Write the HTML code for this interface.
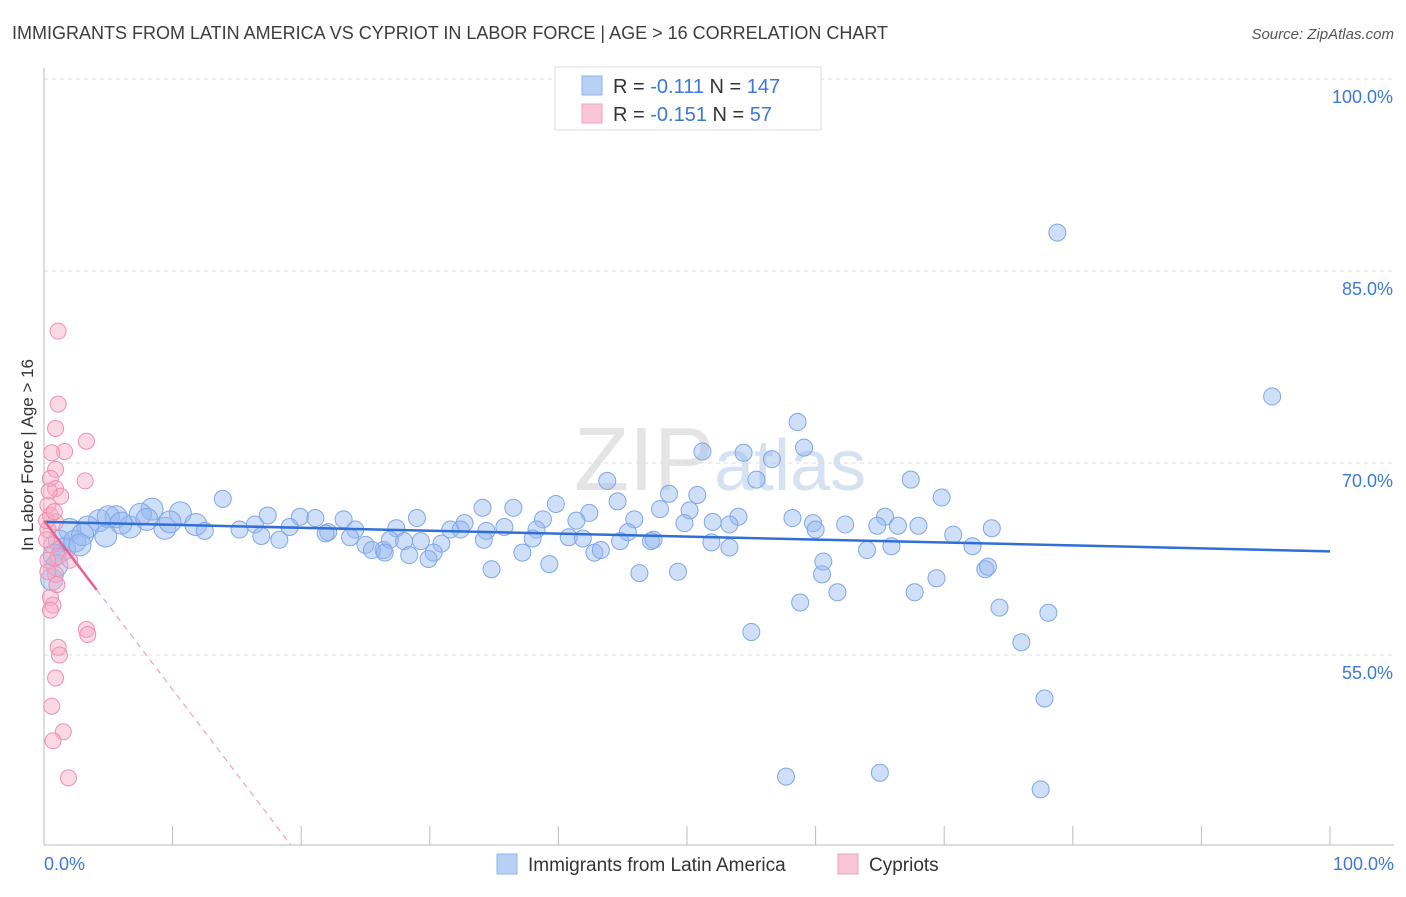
<!DOCTYPE html>
<html><head><meta charset="utf-8"><style>
body{margin:0;background:#fff;font-family:"Liberation Sans",sans-serif}
svg text{font-family:"Liberation Sans",sans-serif}
</style></head><body>
<svg width="1406" height="892" xmlns="http://www.w3.org/2000/svg">
<text x="12" y="39" font-size="18" fill="#3c3c3c">IMMIGRANTS FROM LATIN AMERICA VS CYPRIOT IN LABOR FORCE | AGE &gt; 16 CORRELATION CHART</text>
<text x="1394" y="39" font-size="15" fill="#555" text-anchor="end" font-style="italic">Source: ZipAtlas.com</text>
<text x="720" y="490" font-size="90" fill="#e4e4e4" text-anchor="middle" font-family="Liberation Serif">ZIP<tspan fill="#d6e2f2" font-family="Liberation Sans" font-size="72">atlas</tspan></text>
<g id="grid"></g>
<g id="axes"></g>
<text transform="translate(33,455) rotate(-90)" font-size="17" fill="#333" text-anchor="middle">In Labor Force | Age &gt; 16</text>
<g id="pts"></g>
<g id="lines"></g>
<g>
<rect x="555" y="67" width="266" height="63" fill="#fff" stroke="#ddd"/>
<rect x="582" y="76" width="20" height="19" fill="#b7d0f3" stroke="#8fb4ea"/>
<rect x="582" y="104" width="20" height="19" fill="#f9c6d6" stroke="#f2a3bd"/>
<text x="613" y="93" font-size="20" fill="#333">R = <tspan fill="#3d78d8">-0.111</tspan>   N = <tspan fill="#3d78d8">147</tspan></text>
<text x="613" y="121" font-size="20" fill="#333">R = <tspan fill="#3d78d8">-0.151</tspan>   N =   <tspan fill="#3d78d8">57</tspan></text>
</g>
<g>
<rect x="497" y="854" width="20" height="20" fill="#b7d0f3" stroke="#8fb4ea"/>
<text x="528" y="871" font-size="19" fill="#333">Immigrants from Latin America</text>
<rect x="838" y="854" width="20" height="20" fill="#f9c6d6" stroke="#f2a3bd"/>
<text x="869" y="871" font-size="19" fill="#333">Cypriots</text>
</g>
<text x="44" y="870" font-size="18" fill="#3d78d8">0.0%</text>
<text x="1394" y="870" font-size="18" fill="#3d78d8" text-anchor="end">100.0%</text>
</svg>
<script>
const yTicks=[100,85,70,55];
const xTicks=[0,10,20,30,40,50,60,70,80,90,100];
const blueX=[78.8,95.5,58.6,59.1,54.4,51.2,56.6,55.4,67.4,43.8,69.8,48.6,50.8,13.9,39.8,36.5,34.1,44.6,47.9,50.2,8.4,10.6,17.4,5.6,42.4,45.9,54.0,58.2,65.4,29.0,19.9,23.3,21.1,41.4,38.8,32.7,49.8,52.0,53.3,59.8,66.4,68.0,73.7,62.3,64.8,35.8,4.3,6.7,9.4,11.8,12.5,15.2,16.4,19.1,22.1,24.2,27.4,31.6,32.4,34.4,38.3,45.4,60.0,3.4,2.0,1.2,1.6,0.8,0.6,2.4,16.9,18.3,21.9,23.8,25.0,26.4,26.9,28.0,29.3,30.9,34.2,38.0,40.8,41.9,44.8,47.2,51.9,53.3,47.4,25.5,26.5,28.4,30.3,29.9,37.2,42.8,43.3,64.0,65.9,72.2,70.7,34.8,39.3,46.3,49.3,60.5,60.6,73.2,73.4,69.4,61.7,58.8,67.7,74.3,78.1,76.0,55.0,77.8,57.7,65.0,77.5,5.0,6.0,7.5,3.0,4.8,8.0,2.8,1.0,9.8];
const blueY=[88.0,75.2,73.2,71.2,70.8,70.9,70.3,68.7,68.7,68.6,67.3,67.6,67.5,67.2,66.8,66.5,66.5,67.0,66.4,66.3,66.4,66.1,65.9,65.8,66.1,65.6,65.8,65.7,65.8,65.7,65.8,65.6,65.7,65.5,65.6,65.3,65.3,65.4,65.2,65.3,65.1,65.1,64.9,65.2,65.1,65.0,65.5,65.0,64.9,65.2,64.7,64.8,65.2,65.0,64.6,64.8,64.9,64.8,64.8,64.7,64.8,64.6,64.8,65.0,64.8,63.9,63.3,62.8,60.9,63.9,64.3,64.0,64.5,64.2,63.6,63.2,64.0,63.9,63.9,63.7,64.0,64.1,64.2,64.1,63.9,63.9,63.8,63.4,64.0,63.2,63.0,62.8,63.0,62.5,63.0,63.0,63.2,63.2,63.5,63.5,64.4,61.7,62.1,61.4,61.5,61.3,62.3,61.7,61.9,61.0,59.9,59.1,59.9,58.7,58.3,56.0,56.8,51.6,45.5,45.8,44.5,65.8,65.3,66.0,64.4,64.3,65.6,63.6,62.0,65.4];
const pinkX=[1.1,1.1,3.3,0.9,1.6,0.6,0.9,3.2,0.5,0.9,1.3,0.3,0.5,0.9,0.3,0.6,1.1,0.9,0.5,0.7,0.5,3.3,3.4,1.1,1.2,0.9,0.6,1.5,0.7,1.9,0.2,0.2,0.3,2.0,0.4,0.8,0.3,1.0];
const pinkY=[80.3,74.6,71.7,72.7,70.9,70.8,69.5,68.6,68.8,68.0,67.4,66.7,65.9,65.4,64.8,63.6,62.7,61.3,59.5,58.9,58.5,57.0,56.6,55.6,55.0,53.2,51.0,49.0,48.3,45.4,65.5,64.0,62.4,62.4,67.8,66.2,61.5,60.5];
const blueR=[65.4,63.1], pinkR=[65.5,-1.32];
const X=v=>44+v*12.86, Y=v=>79+(100-v)*12.8;
const NS="http://www.w3.org/2000/svg";
function mk(tag,attrs,parent){const e=document.createElementNS(NS,tag);for(const k in attrs)e.setAttribute(k,attrs[k]);document.getElementById(parent).appendChild(e);return e;}
yTicks.forEach(t=>{
 const l=mk('line',{x1:44,x2:1394,y1:Y(t),y2:Y(t),stroke:'#dcdcdc','stroke-dasharray':'4,4'},'grid');
 
 
 const tx=mk('text',{x:1393,y:Y(t)+24,'font-size':18,fill:'#3d78d8','text-anchor':'end'},'grid');
 tx.textContent=t.toFixed(1)+'%';
 
 
});
const ax=mk('line',{x1:44,x2:44,y1:68,y2:845,stroke:'#bbb'},'axes');


const bx=mk('line',{x1:44,x2:1394,y1:845,y2:845,stroke:'#bbb'},'axes');


xTicks.forEach(t=>{
 const l=mk('line',{x1:X(t),x2:X(t),y1:826,y2:845,stroke:'#bbb'},'axes');
 
 
});
blueX.forEach((v,i)=>{
 const r=(v<12?11:8.5);
 const c=mk('circle',{cx:X(v),cy:Y(blueY[i]),r:r,fill:'rgba(150,185,240,0.45)',stroke:'#7fa7e6','stroke-width':1},'pts');
 
 
});
pinkX.forEach((v,i)=>{
 const c=mk('circle',{cx:X(v),cy:Y(pinkY[i]),r:8,fill:'rgba(246,170,195,0.45)',stroke:'#ef8fb0','stroke-width':1},'pts');
 
 
});
const bl=mk('line',{x1:X(0),y1:Y(blueR[0]),x2:X(100),y2:Y(blueR[1]),stroke:'#2f6fd6','stroke-width':2.5},'lines');


const px1=4.1;
const pl=mk('line',{x1:X(0),y1:Y(pinkR[0]),x2:X(px1),y2:Y(pinkR[0]+pinkR[1]*px1),stroke:'#e8618f','stroke-width':2.5},'lines');


const xe=(40.2-pinkR[0])/pinkR[1];
const pd=mk('line',{x1:X(px1),y1:Y(pinkR[0]+pinkR[1]*px1),x2:X(xe),y2:Y(40.2),stroke:'#f0a0bb','stroke-width':1.2,'stroke-dasharray':'6,5'},'lines');


</script>
</body></html>
